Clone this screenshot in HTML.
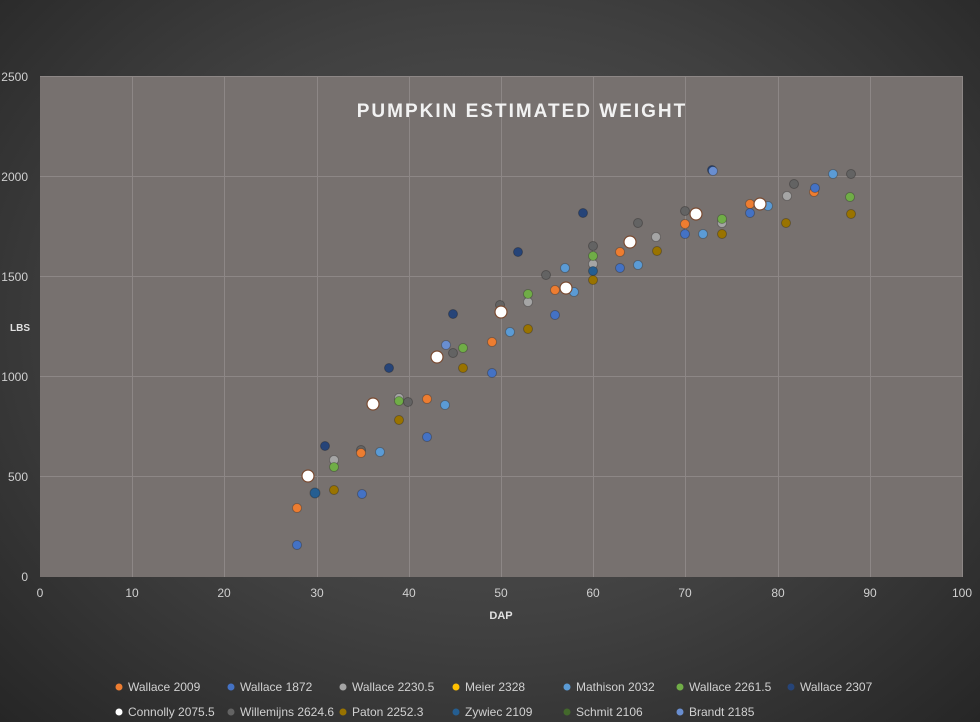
<!DOCTYPE html>
<html><head><style>
body{margin:0;width:980px;height:722px;overflow:hidden;background:radial-gradient(ellipse at 50% 45%,#595959 0%,#404040 55%,#262626 100%);font-family:"Liberation Sans",sans-serif;}
</style></head><body>
<svg width="980" height="722" xmlns="http://www.w3.org/2000/svg" style="position:absolute;left:0;top:0">
<rect x="40" y="76" width="922" height="501" fill="#77716f"/>
<g stroke="#8d8786" stroke-width="1">
<line x1="40" y1="176.5" x2="962" y2="176.5"/><line x1="40" y1="276.5" x2="962" y2="276.5"/><line x1="40" y1="376.5" x2="962" y2="376.5"/><line x1="40" y1="476.5" x2="962" y2="476.5"/><line x1="40" y1="76.5" x2="962" y2="76.5"/>
<line x1="132.5" y1="76" x2="132.5" y2="577"/><line x1="224.5" y1="76" x2="224.5" y2="577"/><line x1="317.5" y1="76" x2="317.5" y2="577"/><line x1="409.5" y1="76" x2="409.5" y2="577"/><line x1="501.5" y1="76" x2="501.5" y2="577"/><line x1="593.5" y1="76" x2="593.5" y2="577"/><line x1="685.5" y1="76" x2="685.5" y2="577"/><line x1="778.5" y1="76" x2="778.5" y2="577"/><line x1="870.5" y1="76" x2="870.5" y2="577"/><line x1="962.5" y1="76" x2="962.5" y2="577"/>
</g>
<g fill="#d0d0d0" font-size="12" text-anchor="end">
<text x="28" y="81">2500</text><text x="28" y="181">2000</text><text x="28" y="281">1500</text><text x="28" y="381">1000</text><text x="28" y="481">500</text><text x="28" y="581">0</text>
</g>
<g fill="#d0d0d0" font-size="12" text-anchor="middle">
<text x="40" y="597">0</text><text x="132" y="597">10</text><text x="224" y="597">20</text><text x="317" y="597">30</text><text x="409" y="597">40</text><text x="501" y="597">50</text><text x="593" y="597">60</text><text x="685" y="597">70</text><text x="778" y="597">80</text><text x="870" y="597">90</text><text x="962" y="597">100</text>
</g>
<text x="501" y="619" fill="#e0e0e0" font-size="11" font-weight="bold" text-anchor="middle">DAP</text>
<text x="10" y="331" fill="#e0e0e0" font-size="10" font-weight="bold">LBS</text>
<text x="522" y="117" fill="#f2f2f2" font-size="19" font-weight="bold" text-anchor="middle" letter-spacing="2">PUMPKIN ESTIMATED WEIGHT</text>
<g stroke="rgba(0,0,0,0.25)" stroke-width="1">
<g fill="#636363"><circle cx="361" cy="450" r="4.5"/><circle cx="408" cy="402" r="4.5"/><circle cx="453" cy="353" r="4.5"/><circle cx="546" cy="275" r="4.5"/><circle cx="593" cy="246" r="4.5"/><circle cx="638" cy="223" r="4.5"/><circle cx="685" cy="211" r="4.5"/><circle cx="794" cy="184" r="4.5"/><circle cx="851" cy="174" r="4.5"/><circle cx="500" cy="305" r="4.5"/></g>
<g fill="#a5a5a5"><circle cx="334" cy="460" r="4.5"/><circle cx="399" cy="398" r="4.5"/><circle cx="528" cy="302" r="4.5"/><circle cx="593" cy="264" r="4.5"/><circle cx="787" cy="196" r="4.5"/><circle cx="656" cy="237" r="4.5"/><circle cx="722" cy="223" r="4.5"/></g>
<g fill="#ed7d31"><circle cx="297" cy="508" r="4.5"/><circle cx="361" cy="453" r="4.5"/><circle cx="427" cy="399" r="4.5"/><circle cx="492" cy="342" r="4.5"/><circle cx="555" cy="290" r="4.5"/><circle cx="620" cy="252" r="4.5"/><circle cx="685" cy="224" r="4.5"/><circle cx="750" cy="204" r="4.5"/><circle cx="814" cy="192" r="4.5"/></g>
<g fill="#4472c4"><circle cx="297" cy="545" r="4.5"/><circle cx="362" cy="494" r="4.5"/><circle cx="427" cy="437" r="4.5"/><circle cx="492" cy="373" r="4.5"/><circle cx="555" cy="315" r="4.5"/><circle cx="620" cy="268" r="4.5"/><circle cx="685" cy="234" r="4.5"/><circle cx="750" cy="213" r="4.5"/><circle cx="815" cy="188" r="4.5"/></g>
<g fill="#5b9bd5"><circle cx="380" cy="452" r="4.5"/><circle cx="445" cy="405" r="4.5"/><circle cx="510" cy="332" r="4.5"/><circle cx="574" cy="292" r="4.5"/><circle cx="638" cy="265" r="4.5"/><circle cx="703" cy="234" r="4.5"/><circle cx="768" cy="206" r="4.5"/><circle cx="833" cy="174" r="4.5"/><circle cx="565" cy="268" r="4.5"/></g>
<g fill="#70ad47"><circle cx="334" cy="467" r="4.5"/><circle cx="399" cy="401" r="4.5"/><circle cx="463" cy="348" r="4.5"/><circle cx="528" cy="294" r="4.5"/><circle cx="593" cy="256" r="4.5"/><circle cx="722" cy="219" r="4.5"/><circle cx="850" cy="197" r="4.5"/></g>
<g fill="#997300"><circle cx="334" cy="490" r="4.5"/><circle cx="399" cy="420" r="4.5"/><circle cx="463" cy="368" r="4.5"/><circle cx="528" cy="329" r="4.5"/><circle cx="593" cy="280" r="4.5"/><circle cx="657" cy="251" r="4.5"/><circle cx="722" cy="234" r="4.5"/><circle cx="786" cy="223" r="4.5"/><circle cx="851" cy="214" r="4.5"/></g>
<g fill="#264478"><circle cx="325" cy="446" r="4.5"/><circle cx="389" cy="368" r="4.5"/><circle cx="453" cy="314" r="4.5"/><circle cx="518" cy="252" r="4.5"/><circle cx="583" cy="213" r="4.5"/><circle cx="712" cy="170" r="4.5"/></g>
<g fill="#255e91"><circle cx="315" cy="493" r="5"/><circle cx="593" cy="271" r="4.5"/></g>
<g fill="#698ed0"><circle cx="446" cy="345" r="4.5"/><circle cx="713" cy="171" r="4.5"/></g>
<g fill="#ffffff" stroke="#7a4a30" stroke-width="1.2"><circle cx="308" cy="476" r="6"/><circle cx="373" cy="404" r="6"/><circle cx="437" cy="357" r="6"/><circle cx="501" cy="312" r="6"/><circle cx="566" cy="288" r="6"/><circle cx="630" cy="242" r="6"/><circle cx="696" cy="214" r="6"/><circle cx="760" cy="204" r="6"/></g>
</g>
<g font-size="12" fill="#d0d0d0">
<circle cx="119" cy="687" r="3.5" fill="#ed7d31"/><text x="128" y="691">Wallace 2009</text>
<circle cx="231" cy="687" r="3.5" fill="#4472c4"/><text x="240" y="691">Wallace 1872</text>
<circle cx="343" cy="687" r="3.5" fill="#a5a5a5"/><text x="352" y="691">Wallace 2230.5</text>
<circle cx="456" cy="687" r="3.5" fill="#ffc000"/><text x="465" y="691">Meier 2328</text>
<circle cx="567" cy="687" r="3.5" fill="#5b9bd5"/><text x="576" y="691">Mathison 2032</text>
<circle cx="680" cy="687" r="3.5" fill="#70ad47"/><text x="689" y="691">Wallace 2261.5</text>
<circle cx="791" cy="687" r="3.5" fill="#264478"/><text x="800" y="691">Wallace 2307</text>
<circle cx="119" cy="712" r="3.5" fill="#ffffff"/><text x="128" y="716">Connolly 2075.5</text>
<circle cx="231" cy="712" r="3.5" fill="#636363"/><text x="240" y="716">Willemijns 2624.6</text>
<circle cx="343" cy="712" r="3.5" fill="#997300"/><text x="352" y="716">Paton 2252.3</text>
<circle cx="456" cy="712" r="3.5" fill="#255e91"/><text x="465" y="716">Zywiec 2109</text>
<circle cx="567" cy="712" r="3.5" fill="#43682b"/><text x="576" y="716">Schmit 2106</text>
<circle cx="680" cy="712" r="3.5" fill="#698ed0"/><text x="689" y="716">Brandt 2185</text>
</g>
</svg>
</body></html>
